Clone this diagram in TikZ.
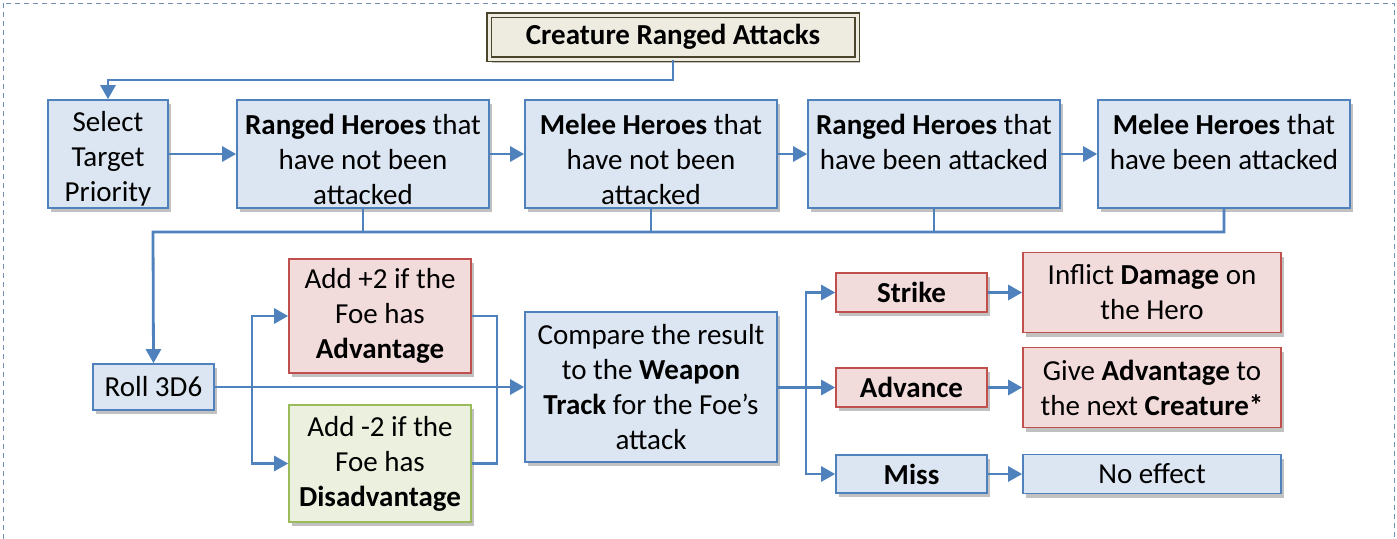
\documentclass[tikz,border=0pt]{standalone}
\usepackage{fontspec}
\setmainfont{Carlito}
\usetikzlibrary{arrows.meta,shadows}
\definecolor{cblue}{HTML}{4F81BD}
\definecolor{fblue}{HTML}{DCE6F2}
\definecolor{cred}{HTML}{C0504D}
\definecolor{fred}{HTML}{F2DCDB}
\definecolor{cgreen}{HTML}{9BBB59}
\definecolor{fgreen}{HTML}{EBF1DE}
\definecolor{ctitle}{HTML}{4A452A}
\definecolor{ftitle}{HTML}{EEECE1}
\definecolor{cframe}{HTML}{6F8FB8}
\newcommand{\topstrut}{\rule{0pt}{1.05em}}
\tikzset{
  base/.style={rectangle, line width=1.6pt, align=center, inner sep=2pt,
    font=\fontsize{29}{35}\selectfont,
    drop shadow={shadow xshift=3pt, shadow yshift=-4pt, opacity=0.35, fill=black!70}},
  bluebox/.style={base, draw=cblue, fill=fblue},
  toprow/.style={bluebox, inner ysep=0pt, minimum height=108},
  redbox/.style={base, draw=cred, fill=fred},
  greenbox/.style={base, draw=cgreen, fill=fgreen},
  titlebox/.style={base, draw=ctitle, line width=1.6pt, double=ftitle, double distance=3pt, fill=ftitle},
  conn/.style={draw=cblue, line width=2.8pt},
  arr/.style={conn, -{Triangle[length=14pt,width=15pt]}},
}
\begin{document}
\begin{tikzpicture}[x=1pt,y=-1pt]
\useasboundingbox (0,0) rectangle (1397,538);
\draw[cframe, line width=1pt, dash pattern=on 5pt off 4pt] (3,3) rectangle (1394,560);

\node[titlebox, minimum width=368, minimum height=44] (title) at (673,37) {\textbf{Creature Ranged Attacks}};

\node[toprow, minimum width=120] (sel) at (108,154) {\topstrut Select\\Target\\Priority};
\node[toprow, minimum width=252] (r1) at (363,154) {\topstrut\textbf{Ranged Heroes} that\\have not been\\attacked};
\node[toprow, minimum width=252] (m1) at (651,154) {\topstrut\textbf{Melee Heroes} that\\have not been\\attacked};
\node[toprow, minimum width=252] (r2) at (934,154) {\topstrut\textbf{Ranged Heroes} that\\have been attacked\\\mbox{}};
\node[toprow, minimum width=252] (m2) at (1224,154) {\topstrut\textbf{Melee Heroes} that\\have been attacked\\\mbox{}};

\node[bluebox, minimum width=121, minimum height=46] (roll) at (153.5,387) {Roll 3D6};
\node[redbox, minimum width=182, minimum height=114] (plus) at (380,316) {Add +2 if the\\Foe has\\\textbf{Advantage}};
\node[greenbox, minimum width=182, minimum height=117] (minus) at (380,463.5) {Add -2 if the\\Foe has\\\textbf{Disadvantage}};
\node[bluebox, minimum width=252, minimum height=150] (cmp) at (651,387) {Compare the result\\to the \textbf{Weapon}\\\textbf{Track} for the Foe’s\\attack};

\node[redbox, minimum width=151, minimum height=39] (strike) at (911.5,292.5) {\textbf{Strike}};
\node[redbox, minimum width=151, minimum height=39] (adv) at (911.5,387.5) {\textbf{Advance}};
\node[bluebox, minimum width=151, minimum height=38] (miss) at (911.5,474) {\textbf{Miss}};
\node[redbox, minimum width=258, minimum height=80] (inf) at (1152,292.5) {Inflict \textbf{Damage} on\\the Hero};
\node[redbox, minimum width=258, minimum height=80] (give) at (1152,387.5) {Give \textbf{Advantage} to\\the next \textbf{Creature*}};
\node[bluebox, minimum width=258, minimum height=39] (noeff) at (1152,474) {No effect};

% title to select
\coordinate (tA) at (673,80);
\draw[arr] (title.south) -- (tA) -| (sel.north);

% top row
\draw[arr] (sel.east) -- (r1.west);
\draw[arr] (r1.east) -- (m1.west);
\draw[arr] (m1.east) -- (r2.west);
\draw[arr] (r2.east) -- (m2.west);

% bus
\coordinate (bus) at (153,232);
\draw[arr] (m2.south) |- (bus) -- (roll.north);
\draw[conn] (r1.south) -- (r1.south |- bus);
\draw[conn] (m1.south) -- (m1.south |- bus);
\draw[conn] (r2.south) -- (r2.south |- bus);

% roll split
\coordinate (sp) at (252,387);
\draw[arr] (roll.east) -- (cmp.west);
\draw[arr] (sp) |- (plus.west);
\draw[arr] (sp) |- (minus.west);
\coordinate (jn) at (497,387);
\draw[conn] (plus.east) -| (jn) |- (minus.east);

% outcomes
\coordinate (sp2) at (806,387.5);
\draw[arr] (cmp.east |- sp2) -- (adv.west);
\draw[arr] (sp2) |- (strike.west);
\draw[arr] (sp2) |- (miss.west);
\draw[arr] (strike.east) -- (inf.west);
\draw[arr] (adv.east) -- (give.west);
\draw[arr] (miss.east) -- (noeff.west);
\end{tikzpicture}
\end{document}
